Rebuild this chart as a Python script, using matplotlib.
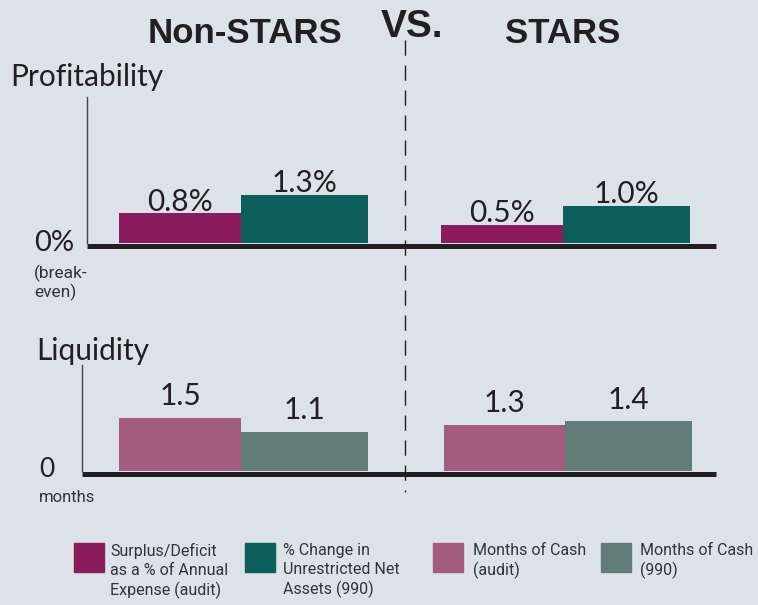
import matplotlib
matplotlib.use("Agg")
import matplotlib.pyplot as plt
from matplotlib.patches import Rectangle
from matplotlib.lines import Line2D
import matplotlib.transforms as mtransforms

# data
groups = ["Non-STARS", "STARS"]
profit_audit = [0.8, 0.5]   # surplus/deficit as % of annual expense (audit)
profit_990 = [1.3, 1.0]     # % change in unrestricted net assets (990)
cash_audit = [1.5, 1.3]     # months of cash (audit)
cash_990 = [1.1, 1.4]       # months of cash (990)
legend_labels = ["Surplus/Deficit\nas a % of Annual\nExpense (audit)",
                 "% Change in\nUnrestricted Net\nAssets (990)",
                 "Months of Cash\n(audit)",
                 "Months of Cash\n(990)"]

colors = ["#8a1c5e", "#0c5e58", "#a35c80", "#627c77"]
bg = "#dce3e8"
ink = "#231f20"

W, H = 758, 605
fig = plt.figure(figsize=(W / 100, H / 100), dpi=100, facecolor=bg)

plain = ["Lato", "DejaVu Sans"]
narrow = ["Roboto", "DejaVu Sans"]
title_font = ["Liberation Sans", "DejaVu Sans"]


def fx(px):
    return px / W


def fy(py):
    return 1 - py / H


def panel(bottom, top, left_line, scale, centers, widths, vals, cols):
    ax = fig.add_axes([0, fy(bottom), 1, (bottom - top) / H])
    ax.set_xlim(0, W)
    ax.set_ylim(0, (bottom - top) / scale)
    ax.axis("off")
    ax.patch.set_alpha(0)
    bars = ax.bar(centers, vals, width=widths, color=cols, zorder=3)
    shift = mtransforms.offset_copy(ax.transData, fig=fig, y=-2.5, units="dots")
    ax.plot([left_line, 716], [0, 0], color=ink, lw=3.6, transform=shift,
            solid_capstyle="butt", zorder=2, clip_on=False)
    ax.plot([left_line, left_line], [0, (bottom - top) / scale], color="#444444",
            lw=1.0, zorder=2, clip_on=False)
    return ax, bars


# profitability panel
p_vals = [profit_audit[0], profit_990[0], profit_audit[1], profit_990[1]]
p_cols = [colors[0], colors[1], colors[0], colors[1]]
axp, pb = panel(243, 97, 87, 37.0, [180, 304.5, 502, 626.5], [122, 127, 122, 127],
                p_vals, p_cols)
for b, v in zip(pb, p_vals):
    axp.annotate(f"{v:.1f}%", (b.get_x() + b.get_width() / 2, v), xytext=(0, 2),
                 textcoords="offset points", ha="center", va="baseline",
                 fontsize=21.5, color=ink, family=plain)

# liquidity panel
l_vals = [cash_audit[0], cash_990[0], cash_audit[1], cash_990[1]]
l_cols = [colors[2], colors[3], colors[2], colors[3]]
axl, lb = panel(471, 365, 82, 35.5, [180, 304.5, 504.5, 628.5], [122, 127, 122, 127],
                l_vals, l_cols)
for b, v in zip(lb, l_vals):
    axl.annotate(f"{v:.1f}", (b.get_x() + b.get_width() / 2, v), xytext=(0, 9),
                 textcoords="offset points", ha="center", va="baseline",
                 fontsize=21.5, color=ink, family=plain)

# titles
fig.text(fx(245), fy(43), groups[0], ha="center", va="baseline", fontsize=25,
         fontweight="bold", color=ink, family=title_font)
fig.text(fx(412), fy(37), "VS.", ha="center", va="baseline", fontsize=28,
         fontweight="bold", color=ink, family=title_font)
fig.text(fx(563), fy(43), groups[1], ha="center", va="baseline", fontsize=25,
         fontweight="bold", color=ink, family=title_font)

# dashed divider
fig.add_artist(Line2D([fx(405), fx(405)], [fy(40), fy(492)], color=ink, lw=1.0,
                      dashes=(11, 7), transform=fig.transFigure))

# panel headings and axis notes
fig.text(fx(10), fy(86), "Profitability", ha="left", va="baseline", fontsize=21.5,
         color=ink, family=plain)
fig.text(fx(34), fy(251), "0%", ha="left", va="baseline", fontsize=21,
         color=ink, family=plain)
fig.text(fx(34), fy(301), "(break-\neven)", ha="left", va="bottom", fontsize=12.5,
         color="#333333", family=narrow, linespacing=1.15)
fig.text(fx(36), fy(360), "Liquidity", ha="left", va="baseline", fontsize=21.5,
         color=ink, family=plain)
fig.text(fx(39), fy(477), "0", ha="left", va="baseline", fontsize=19,
         color=ink, family=plain)
fig.text(fx(39), fy(502), "months", ha="left", va="baseline", fontsize=12,
         color="#333333", family=narrow)

# legend
sq_x = [74, 245, 433, 601]
txt_x = [110, 283, 473, 640]
for x0, tx, c, lab in zip(sq_x, txt_x, colors, legend_labels):
    fig.add_artist(Rectangle((fx(x0), fy(572)), 30 / W, 29 / H, color=c,
                             transform=fig.transFigure))
    fig.text(fx(tx), fy(543), lab, ha="left", va="top", fontsize=11.5,
             color="#333333", family=narrow, linespacing=1.3)

fig.savefig("out.png", dpi=100, facecolor=bg)
